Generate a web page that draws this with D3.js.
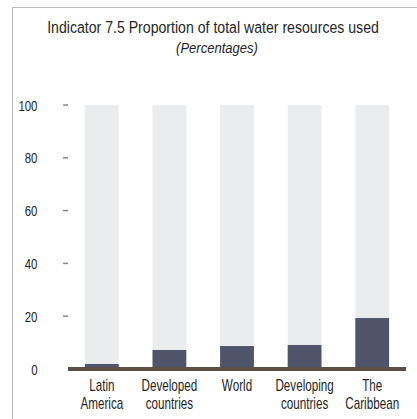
<!DOCTYPE html>
<html><head><meta charset="utf-8">
<script src="https://cdn.jsdelivr.net/npm/d3@7"></script>
<style>body{margin:0;background:#fff;} svg{display:block;} text{font-family:"Liberation Sans",Arial,sans-serif;fill:#262626;}</style>
</head><body>
<svg id="c" width="417" height="419"></svg>
<script>
const categories = [["Latin","America"],["Developed","countries"],["World"],["Developing","countries"],["The","Caribbean"]];
const values = [1.9, 7.2, 8.7, 9.1, 19.3];
const totals = [100, 100, 100, 100, 100];
const yTicks = [0, 20, 40, 60, 80, 100];
const titleText = "Indicator 7.5 Proportion of total water resources used";
const subtitleText = "(Percentages)";

const svg = d3.select("#c");
// frame
svg.append("line").attr("x1",12.5).attr("x2",12.5).attr("y1",7).attr("y2",419).attr("stroke","#bdbdbd").attr("stroke-width",1);
svg.append("line").attr("x1",12).attr("x2",417).attr("y1",7.5).attr("y2",7.5).attr("stroke","#bdbdbd").attr("stroke-width",1);

// condensed text: horizontal squeeze via transform
function ctext(x, y, lines, size, anchor, sx, italic, lh) {
  const t = svg.append("text").attr("transform",`translate(${x},${y}) scale(${sx},1)`)
    .attr("text-anchor",anchor).attr("font-size",size);
  if (italic) t.attr("font-style","italic");
  lines.forEach((l,j)=>t.append("tspan").attr("x",0).attr("dy",j===0?0:lh).text(l));
  return t;
}
function fitWidth(t, x, y, w) {
  const n = t.node().getComputedTextLength();
  t.attr("transform",`translate(${x},${y}) scale(${w/n},1)`);
}

// title / subtitle fitted to the reference widths
fitWidth(ctext(213, 33, [titleText], 16.5, "middle", 1, false, 0), 213, 33, 332);
fitWidth(ctext(217, 53, [subtitleText], 14.5, "middle", 1, true, 0), 217, 53, 82);

const x = d3.scaleBand().domain(d3.range(categories.length)).range([68,406]).paddingInner(0.5).paddingOuter(0.25);
const y = d3.scaleLinear().domain([0,100]).range([369,105]);

const g = svg.append("g");
g.selectAll("rect.bg").data(totals).enter().append("rect")
  .attr("x",(d,i)=>x(i)).attr("width",x.bandwidth()).attr("y",d=>y(d)).attr("height",d=>y(0)-y(d)).attr("fill","#ebecee");
g.selectAll("rect.v").data(values).enter().append("rect")
  .attr("x",(d,i)=>x(i)).attr("width",x.bandwidth()).attr("y",d=>y(d)).attr("height",d=>y(0)-y(d)).attr("fill","#50546a");

// y axis ticks
yTicks.forEach(t=>{
  if(t>0) svg.append("line").attr("x1",63).attr("x2",68).attr("y1",y(t)).attr("y2",y(t)).attr("stroke","#888").attr("stroke-width",1.5);
  ctext(37.5, y(t)+5.5, [String(t)], 15.5, "end", 0.74, false, 0);
});
// baseline
svg.append("line").attr("x1",68).attr("x2",406).attr("y1",y(0)).attr("y2",y(0)).attr("stroke","#5a4f47").attr("stroke-width",4);

// category labels
categories.forEach((c,i)=>{
  const cx = x(i)+x.bandwidth()/2;
  ctext(cx, 391, c, 16, "middle", 0.73, false, 18);
});
</script>
</body></html>
